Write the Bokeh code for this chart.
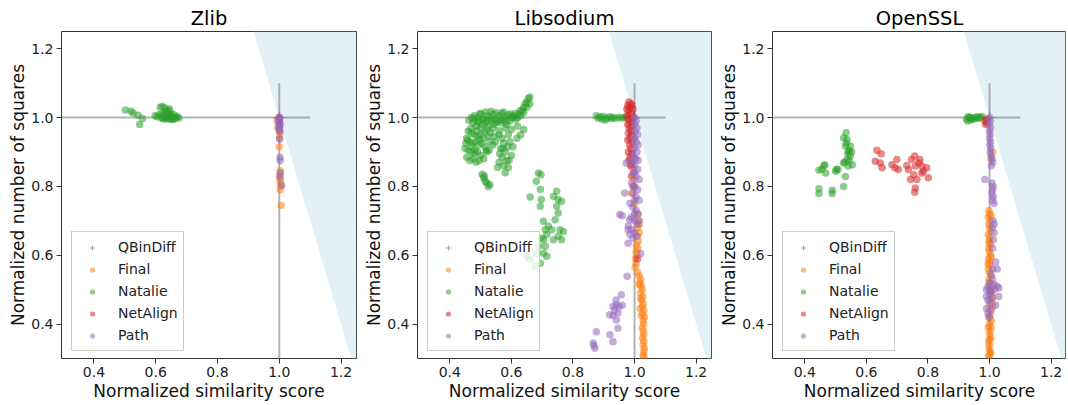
from bokeh.plotting import figure
from bokeh.models import Range1d, FixedTicker, NumeralTickFormatter, Legend, LegendItem
from bokeh.layouts import row
from bokeh.embed import file_html
from bokeh.resources import INLINE

FONT = "DejaVu Sans"
X_RANGE = (0.295, 1.25)
Y_RANGE = (0.3, 1.25)
TICKS = [0.4, 0.6, 0.8, 1.0, 1.2]
TITLES = ["Zlib", "Libsodium", "OpenSSL"]
SERIES = ["Final", "Natalie", "NetAlign", "Path"]
COLORS = {"Final": "#ff7f0e", "Natalie": "#2ca02c", "NetAlign": "#d62728", "Path": "#9467bd"}
REF_X, REF_Y = 1.0, 1.0
CROSS_START, CROSS_END = 0.0, 1.1
FRONTIER_SLOPE = -3.0

zlib_final_x = [0.993, 0.995, 1.0, 1.002, 1.001, 1.0, 1.003, 1.0, 1.002, 1.004, 1.005, 1.003, 1.006, 1.004]
zlib_final_y = [0.99, 0.972, 0.96, 0.952, 0.94, 0.915, 0.845, 0.832, 0.82, 0.81, 0.80, 0.79, 0.745, 0.98]
zlib_natalie_x = [0.502, 0.52, 0.527, 0.543, 0.557, 0.548, 0.598, 0.605, 0.61, 0.615, 0.618, 0.622, 0.625,
                  0.628, 0.63, 0.632, 0.635, 0.638, 0.64, 0.642, 0.645, 0.648, 0.65, 0.652, 0.655, 0.658,
                  0.66, 0.665, 0.67, 0.675, 0.62, 0.63, 0.64, 0.65, 0.645, 0.625, 0.66, 0.635]
zlib_natalie_y = [1.022, 1.018, 1.013, 1.007, 0.997, 0.980, 1.005, 1.002, 1.008, 1.03, 0.998, 1.032, 1.005,
                  1.0, 1.028, 0.995, 1.01, 1.002, 0.998, 1.02, 1.005, 0.996, 1.012, 1.0, 1.003, 0.997,
                  1.008, 1.0, 1.002, 0.999, 1.01, 1.015, 1.006, 0.994, 1.025, 0.997, 0.995, 1.02]
zlib_netalign_x = [1.0, 1.0]
zlib_netalign_y = [1.0, 0.99]
zlib_path_x = [1.0, 1.0, 1.0, 1.0, 1.0, 1.0, 1.0, 1.0, 1.002, 1.0, 1.001, 1.002, 1.003, 1.004, 1.003, 1.008]
zlib_path_y = [1.0, 0.995, 0.99, 0.985, 0.98, 0.975, 0.97, 0.965, 0.96, 0.995, 0.938, 0.885, 0.875, 0.84, 0.828, 0.803]

sodium_final_x = [0.995, 0.998, 0.99, 1.0, 1.01, 1.012, 1.016, 1.01, 1.015, 1.008, 1.012, 1.006, 1.01, 1.005,
                  1.008, 1.003, 1.005, 1.002, 1.01, 1.015, 1.02, 1.018, 1.022, 1.025, 1.02, 1.027, 1.023,
                  1.028, 1.025, 1.03, 1.027, 1.032, 1.028, 1.03, 1.025, 1.028, 1.03, 1.026, 1.03, 1.028,
                  1.032, 1.03, 1.028, 1.03, 1.015, 1.02, 1.018, 1.022]
sodium_final_y = [0.85, 0.82, 0.78, 0.75, 0.72, 0.70, 0.69, 0.68, 0.665, 0.655, 0.64, 0.63, 0.62, 0.61,
                  0.60, 0.59, 0.575, 0.565, 0.55, 0.54, 0.53, 0.52, 0.51, 0.50, 0.49, 0.48, 0.47,
                  0.46, 0.45, 0.44, 0.43, 0.42, 0.41, 0.40, 0.39, 0.38, 0.37, 0.36, 0.35, 0.34,
                  0.33, 0.32, 0.31, 0.305, 0.515, 0.475, 0.445, 0.425]
sodium_natalie_x = [
    0.47, 0.48, 0.49, 0.50, 0.51, 0.52, 0.53, 0.54, 0.55, 0.56, 0.57, 0.58, 0.59, 0.60,
    0.475, 0.485, 0.495, 0.505, 0.515, 0.525, 0.535, 0.545, 0.555, 0.565, 0.575, 0.585, 0.595,
    0.50, 0.52, 0.54, 0.56, 0.58,
    0.46, 0.47, 0.48, 0.49, 0.50, 0.51, 0.455, 0.465, 0.475, 0.485, 0.495, 0.505, 0.515,
    0.45, 0.46, 0.47, 0.48, 0.49, 0.50, 0.52, 0.455, 0.465, 0.475, 0.485, 0.495, 0.51,
    0.53, 0.54, 0.525, 0.545,
    0.56, 0.57, 0.575, 0.565, 0.58, 0.57, 0.56, 0.575, 0.585, 0.59, 0.555, 0.58, 0.60, 0.605,
    0.595, 0.59, 0.60,
    0.505, 0.51, 0.515, 0.52, 0.525, 0.53, 0.512,
    0.605, 0.61, 0.62, 0.625, 0.63, 0.635, 0.64, 0.645, 0.65, 0.655, 0.66, 0.65, 0.66, 0.64,
    0.615, 0.62, 0.64, 0.618, 0.63,
    0.688, 0.696, 0.681, 0.694, 0.661, 0.697, 0.694, 0.704, 0.71, 0.699, 0.688, 0.704, 0.715,
    0.694, 0.677, 0.651, 0.661, 0.71, 0.683,
    0.747, 0.737, 0.752, 0.763, 0.747, 0.752, 0.742, 0.758, 0.769, 0.752, 0.763, 0.731, 0.715,
    0.704, 0.737, 0.72,
    0.876, 0.882, 0.888, 0.895, 0.90, 0.91, 0.92, 0.93, 0.94, 0.95, 0.96, 0.97, 0.905, 0.925,
    0.462, 0.478, 0.492, 0.508, 0.522, 0.538, 0.552, 0.568, 0.582, 0.468, 0.488, 0.512, 0.532,
    0.458, 0.472, 0.498, 0.518, 0.548, 0.572, 0.588, 0.452, 0.482, 0.528, 0.562, 0.592,
    0.498, 0.516, 0.534, 0.552, 0.574, 0.596, 0.612, 0.628]
sodium_natalie_y = [
    1.0, 1.005, 1.0, 1.01, 0.995, 1.005, 1.0, 1.01, 0.995, 1.005, 1.012, 1.0, 1.008, 1.0,
    0.985, 0.975, 0.99, 0.98, 0.985, 0.975, 0.99, 0.98, 0.99, 0.985, 0.99, 0.98, 0.99,
    0.97, 0.965, 0.97, 0.962, 0.97,
    0.96, 0.955, 0.95, 0.945, 0.95, 0.94, 0.94, 0.93, 0.925, 0.93, 0.92, 0.925, 0.915,
    0.91, 0.905, 0.90, 0.895, 0.90, 0.89, 0.90, 0.885, 0.875, 0.88, 0.87, 0.875, 0.88,
    0.93, 0.92, 0.945, 0.945,
    0.95, 0.94, 0.925, 0.91, 0.90, 0.885, 0.87, 0.86, 0.875, 0.855, 0.855, 0.84, 0.89, 0.915,
    0.93, 0.95, 0.965,
    0.835, 0.825, 0.815, 0.81, 0.80, 0.805, 0.83,
    1.0, 1.005, 1.0, 1.01, 1.005, 1.02, 1.03, 1.04, 1.045, 1.055, 1.06, 1.03, 1.04, 1.015,
    0.995, 0.975, 0.965, 0.94, 0.95,
    0.839, 0.834, 0.815, 0.791, 0.769, 0.762, 0.742, 0.699, 0.674, 0.65, 0.626, 0.606, 0.597,
    0.577, 0.568, 0.597, 0.587, 0.626, 0.606,
    0.786, 0.771, 0.762, 0.757, 0.742, 0.723, 0.703, 0.674, 0.669, 0.655, 0.645, 0.674, 0.66,
    0.645, 0.645, 0.684,
    1.005, 0.998, 1.002, 0.995, 1.003, 0.999, 1.002, 1.0, 0.998, 1.001, 0.999, 1.0, 0.993, 0.997,
    0.992, 0.996, 0.988, 0.994, 0.99, 0.996, 0.986, 0.994, 0.99, 0.968, 0.962, 0.958, 0.956,
    0.935, 0.915, 0.935, 0.905, 0.93, 0.91, 0.915, 0.925, 0.905, 0.905, 0.895, 0.875,
    1.012, 1.016, 1.018, 1.014, 1.016, 1.01, 1.012, 1.02]
sodium_netalign_x = [0.982, 0.988, 0.978, 0.992, 0.985, 0.975, 0.995, 0.98, 0.99, 0.985, 0.975, 0.995,
                     0.98, 0.99, 0.985, 0.978, 0.992, 0.983, 0.988, 0.98, 0.99, 0.985, 0.978, 0.992,
                     0.984, 0.988, 0.98, 0.99, 0.985, 0.982, 0.99, 0.987, 0.99, 0.995, 1.01]
sodium_netalign_y = [1.045, 1.04, 1.035, 1.035, 1.03, 1.025, 1.025, 1.02, 1.015, 1.01, 1.005, 1.0,
                     0.995, 0.99, 0.985, 0.98, 0.975, 0.97, 0.96, 0.955, 0.95, 0.94, 0.935, 0.93,
                     0.92, 0.91, 0.90, 0.895, 0.885, 0.875, 0.865, 0.86, 0.83, 0.80, 0.59]
sodium_path_x = [1.0, 1.005, 1.0, 1.008, 1.002, 1.01, 0.998, 1.006, 1.012, 1.0, 1.008, 0.995, 1.004, 1.012,
                 0.99, 1.0, 1.01, 0.996, 1.005, 1.015, 0.99, 1.0, 1.01, 0.995, 1.005, 1.015, 0.985, 0.995,
                 1.005, 1.012, 0.99, 1.0, 1.01, 0.98, 0.99, 1.0, 1.008, 0.995, 0.985, 1.015, 1.0, 1.0,
                 1.0, 1.0, 1.0, 1.0,
                 0.973, 0.968, 0.952, 0.96, 0.984, 0.979, 0.979, 0.976, 1.02,
                 0.957, 0.941, 0.93, 0.95, 0.96, 0.946, 0.935, 0.919, 0.941, 0.93, 0.946, 0.876, 0.866,
                 0.871, 0.868, 0.93, 0.92, 0.94]
sodium_path_y = [1.0, 0.99, 0.98, 0.97, 0.96, 0.95, 0.94, 0.93, 0.92, 0.91, 0.90, 0.89, 0.88, 0.875,
                 0.87, 0.86, 0.85, 0.84, 0.83, 0.82, 0.81, 0.80, 0.79, 0.78, 0.77, 0.76, 0.75, 0.74,
                 0.73, 0.72, 0.71, 0.70, 0.69, 0.685, 0.675, 0.665, 0.655, 0.65, 0.66, 0.70, 0.94, 0.72,
                 0.76, 0.80, 0.84, 0.88,
                 0.868, 0.781, 0.718, 0.715, 0.703, 0.674, 0.635, 0.539, 0.605,
                 0.485, 0.456, 0.451, 0.45, 0.455, 0.432, 0.44, 0.427, 0.412, 0.425, 0.388, 0.378, 0.345,
                 0.33, 0.338, 0.349, 0.369, 0.47]

ssl_final_x = [1.01, 1.005, 0.998, 1.0, 0.996, 1.002, 0.998, 1.0, 1.004, 0.996, 1.0, 0.998, 1.002, 0.997,
               1.0, 1.003, 0.997, 1.0, 1.002, 0.996, 1.0, 1.004, 0.998, 1.0, 1.006, 1.002, 1.006, 1.008,
               1.004, 1.008, 1.01, 1.0, 1.002, 0.998, 1.006, 1.0, 0.996, 1.002, 1.0, 1.004, 0.998, 1.0,
               0.998, 1.002, 1.0, 0.997, 1.003, 1.005, 1.0, 1.005, 0.995, 1.0, 1.005]
ssl_final_y = [0.90, 0.88, 0.73, 0.72, 0.71, 0.70, 0.69, 0.68, 0.67, 0.66, 0.65, 0.64, 0.63, 0.62,
               0.61, 0.60, 0.59, 0.58, 0.57, 0.56, 0.55, 0.54, 0.53, 0.52, 0.51, 0.50, 0.49, 0.48,
               0.47, 0.46, 0.45, 0.44, 0.43, 0.42, 0.41, 0.40, 0.39, 0.38, 0.37, 0.36, 0.35, 0.34,
               0.33, 0.32, 0.31, 0.305, 0.315, 0.715, 0.635, 0.595, 0.575, 0.355, 0.39]
ssl_natalie_x = [0.925, 0.93, 0.935, 0.94, 0.945, 0.95, 0.955, 0.96, 0.965, 0.97, 0.975, 0.93, 0.94,
                 0.446, 0.446, 0.489, 0.489, 0.446, 0.462, 0.468, 0.455, 0.5, 0.508, 0.526, 0.532, 0.526,
                 0.537, 0.541, 0.532, 0.537, 0.526, 0.534, 0.548, 0.541, 0.554, 0.548, 0.545, 0.54,
                 0.552, 0.535, 0.53, 0.544, 0.503, 0.465]
ssl_natalie_y = [0.995, 0.99, 1.0, 0.993, 0.998, 0.995, 1.0, 1.002, 0.998, 1.0, 1.003, 1.002, 1.0,
                 0.793, 0.779, 0.789, 0.779, 0.847, 0.861, 0.839, 0.85, 0.844, 0.849, 0.80, 0.829, 0.868,
                 0.878, 0.902, 0.917, 0.936, 0.941, 0.956, 0.888, 0.859, 0.863, 0.917, 0.905, 0.895,
                 0.90, 0.925, 0.87, 0.875, 0.85, 0.862]
ssl_netalign_x = [0.634, 0.648, 0.629, 0.645, 0.651, 0.683, 0.699, 0.693, 0.704, 0.731, 0.737, 0.757,
                  0.759, 0.754, 0.759, 0.757, 0.774, 0.78, 0.785, 0.796, 0.801, 0.764, 0.743, 0.78,
                  0.77, 0.747, 0.985, 0.99, 0.992, 0.988]
ssl_netalign_y = [0.905, 0.895, 0.873, 0.868, 0.854, 0.863, 0.878, 0.854, 0.849, 0.861, 0.849, 0.888,
                  0.859, 0.834, 0.795, 0.783, 0.878, 0.859, 0.844, 0.854, 0.825, 0.82, 0.82, 0.839,
                  0.868, 0.878, 0.99, 0.985, 0.995, 0.98]
ssl_path_x = [1.0, 1.002, 1.0, 1.003, 1.0, 1.002, 1.0, 1.003, 1.001, 1.004, 1.002, 1.005, 1.008, 1.01,
              1.006, 0.985, 1.008, 1.012, 1.01, 1.008, 1.012, 1.01, 1.015, 1.012, 1.015, 1.01, 1.015,
              1.012, 1.01, 1.02, 1.025, 1.01, 1.0, 1.015, 0.995, 1.025, 1.03, 0.99, 1.005, 1.0, 0.99,
              1.01, 1.03, 0.995, 1.0, 0.99, 1.005, 0.995, 1.0, 1.02, 1.015, 1.005, 1.01, 1.0]
ssl_path_y = [1.0, 0.99, 0.98, 0.97, 0.96, 0.95, 0.94, 0.93, 0.92, 0.91, 0.90, 0.89, 0.88, 0.87,
              0.86, 0.82, 0.81, 0.80, 0.79, 0.78, 0.77, 0.76, 0.75, 0.70, 0.69, 0.68, 0.665,
              0.645, 0.62, 0.58, 0.56, 0.53, 0.52, 0.515, 0.51, 0.51, 0.505, 0.50, 0.495, 0.485, 0.48,
              0.475, 0.48, 0.47, 0.46, 0.445, 0.44, 0.43, 0.42, 0.455, 0.50, 0.545, 0.56, 0.50]

DATA = [
    {"Final": (zlib_final_x, zlib_final_y), "Natalie": (zlib_natalie_x, zlib_natalie_y),
     "NetAlign": (zlib_netalign_x, zlib_netalign_y), "Path": (zlib_path_x, zlib_path_y)},
    {"Final": (sodium_final_x, sodium_final_y), "Natalie": (sodium_natalie_x, sodium_natalie_y),
     "NetAlign": (sodium_netalign_x, sodium_netalign_y), "Path": (sodium_path_x, sodium_path_y)},
    {"Final": (ssl_final_x, ssl_final_y), "Natalie": (ssl_natalie_x, ssl_natalie_y),
     "NetAlign": (ssl_netalign_x, ssl_netalign_y), "Path": (ssl_path_x, ssl_path_y)},
]

FIG_H = 403


def make_panel(title, data, border_left, border_right, frame_w):
    p = figure(width=border_left + frame_w + border_right, height=FIG_H,
               x_range=Range1d(*X_RANGE), y_range=Range1d(*Y_RANGE),
               output_backend="svg", toolbar_location=None,
               min_border_left=border_left, min_border_right=border_right,
               min_border_top=31, min_border_bottom=40)
    p.grid.visible = False
    p.background_fill_color = "white"
    p.outline_line_color = "#333333"
    p.outline_line_width = 1
    p.outline_line_alpha = 1

    p.title.text = title
    p.title.align = "center"
    p.title.text_font = FONT
    p.title.text_font_size = "19.5px"
    p.title.text_font_style = "normal"
    p.title.text_color = "black"
    p.title.standoff = 3

    for ax in (p.xaxis[0], p.yaxis[0]):
        ax.ticker = FixedTicker(ticks=TICKS)
        ax.formatter = NumeralTickFormatter(format="0.0")
        ax.major_label_text_font = FONT
        ax.major_label_text_font_size = "14px"
        ax.major_label_text_color = "#222222"
        ax.axis_label_text_font = FONT
        ax.axis_label_text_font_size = "17px"
        ax.axis_label_text_font_style = "normal"
        ax.axis_label_text_color = "#111111"
        ax.major_tick_out = 5
        ax.major_tick_in = 0
        ax.minor_tick_out = 0
        ax.minor_tick_in = 0
        ax.major_tick_line_color = "#333333"
        ax.axis_line_color = None
        ax.major_label_standoff = 3
    p.xaxis[0].axis_label = "Normalized similarity score"
    p.xaxis[0].axis_label_standoff = 1
    p.yaxis[0].axis_label = "Normalized number of squares"
    p.yaxis[0].axis_label_standoff = 0

    y_lo, y_hi = Y_RANGE[0] - 1.0, Y_RANGE[1] + 1.0
    x_at = lambda yy: REF_X + (yy - REF_Y) / FRONTIER_SLOPE
    p.patch([x_at(y_lo), x_at(y_hi), X_RANGE[1] + 1.0, X_RANGE[1] + 1.0],
            [y_lo, y_hi, y_hi, y_lo], fill_color="lightblue", fill_alpha=0.35, line_color=None)

    p.segment(x0=[CROSS_START, REF_X], y0=[REF_Y, CROSS_START], x1=[CROSS_END, REF_X], y1=[REF_Y, CROSS_END],
              line_color="gray", line_alpha=0.6, line_width=2)
    items = []
    r_ref = p.scatter([REF_X], [REF_Y], marker="cross", size=12, line_color="gray", line_alpha=0.7,
                      line_width=1.2)
    items.append(LegendItem(label="QBinDiff", renderers=[r_ref]))

    for name in SERIES:
        xs, ys = data[name]
        r = p.scatter(xs, ys, size=7.5, fill_color=COLORS[name], fill_alpha=0.55, line_color=None)
        items.append(LegendItem(label=name, renderers=[r]))

    legend = Legend(items=items, location=(10, 7), margin=0, padding=5, spacing=2,
                    label_text_font=FONT, label_text_font_size="14px", label_text_color="#222222",
                    glyph_width=30, glyph_height=13, label_height=20, label_standoff=11,
                    border_line_color="#cccccc", border_line_alpha=1.0, border_line_width=1,
                    background_fill_color="white", background_fill_alpha=0.8)
    p.add_layout(legend)
    return p


panels = [
    make_panel(TITLES[0], DATA[0], 61, 5, 295),
    make_panel(TITLES[1], DATA[1], 55, 5, 295),
    make_panel(TITLES[2], DATA[2], 55, 0, 295),
]
layout = row(*panels, spacing=0)
open("out.html", "w").write(file_html(layout, INLINE))
